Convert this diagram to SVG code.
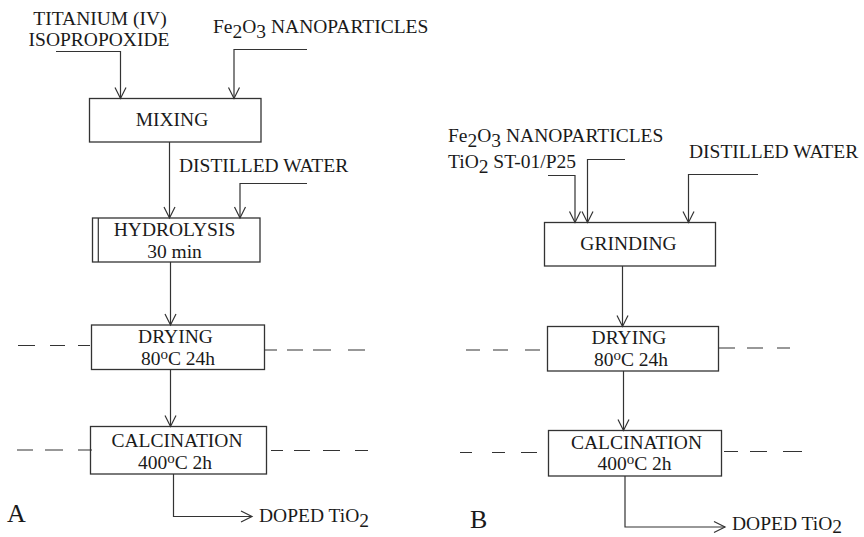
<svg xmlns="http://www.w3.org/2000/svg" width="864" height="537" viewBox="0 0 864 537">
<style>
text{font-family:"Liberation Serif","Times New Roman",serif;font-size:19.5px;fill:#1a1a1a}
.m{text-anchor:middle}
.box{fill:#fff;stroke:#333;stroke-width:1.3}
.ln{fill:none;stroke:#333;stroke-width:1.2}
.ar{fill:none;stroke:#333;stroke-width:1.2;marker-end:url(#v)}
.dash{fill:none;stroke:#333;stroke-width:1.2}
.big{font-size:26px}
.sup{font-size:15px}
</style>
<defs>
<marker id="v" markerUnits="userSpaceOnUse" markerWidth="14" markerHeight="14" viewBox="-12 -7 14 14" refX="0" refY="0" orient="auto">
<path d="M-11,-5.5 L0,0 L-11,5.5" fill="none" stroke="#333" stroke-width="1.2"/>
</marker>
</defs>
<rect width="864" height="537" fill="#fff"/>

<!-- Panel A -->
<g id="A-labels">
<text class="m" x="100" y="25">TITANIUM (IV)</text>
<text class="m" x="99" y="46">ISOPROPOXIDE</text>
<text x="213" y="33">Fe<tspan dy="5">2</tspan><tspan dy="-5">O</tspan><tspan dy="5">3</tspan><tspan dy="-5"> NANOPARTICLES</tspan></text>
<text x="179" y="172">DISTILLED WATER</text>
<text class="big" x="7" y="522">A</text>
</g>
<g id="A-mixing"><rect class="box" x="89.5" y="98.5" width="171.5" height="43.5"/><text class="m" x="172" y="126">MIXING</text></g>
<g id="A-hydrolysis"><rect class="box" x="92.5" y="218" width="167.5" height="44"/><line class="ln" x1="98.3" y1="218" x2="98.3" y2="262"/><text class="m" x="174.5" y="236">HYDROLYSIS</text><text class="m" x="174.5" y="258">30 min</text></g>
<g id="A-drying"><rect class="box" x="91.5" y="325" width="173" height="44.5"/><text class="m" x="175.5" y="343">DRYING</text><text class="m" x="178" y="365">80<tspan class="sup" dy="-6">o</tspan><tspan dy="6">C 24h</tspan></text></g>
<g id="A-calcination"><rect class="box" x="90.5" y="426.5" width="176" height="47.5"/><text class="m" x="177" y="446.5">CALCINATION</text><text class="m" x="175" y="468.5">400<tspan class="sup" dy="-6">o</tspan><tspan dy="6">C 2h</tspan></text></g>
<g id="A-output"><text x="259" y="522">DOPED TiO<tspan dy="5">2</tspan></text></g>

<!-- Panel B -->
<g id="B-labels">
<text x="448" y="142">Fe<tspan dy="5">2</tspan><tspan dy="-5">O</tspan><tspan dy="5">3</tspan><tspan dy="-5"> NANOPARTICLES</tspan></text>
<text x="448" y="168">TiO<tspan dy="5">2</tspan><tspan dy="-5"> ST-01/P25</tspan></text>
<text x="689" y="158">DISTILLED WATER</text>
<text class="big" x="470" y="528">B</text>
</g>
<g id="B-grinding"><rect class="box" x="544.5" y="222.5" width="171" height="43.5"/><text class="m" x="628.5" y="250">GRINDING</text></g>
<g id="B-drying"><rect class="box" x="547.5" y="326.5" width="171" height="44.5"/><text class="m" x="629" y="344">DRYING</text><text class="m" x="631" y="366">80<tspan class="sup" dy="-6">o</tspan><tspan dy="6">C 24h</tspan></text></g>
<g id="B-calcination"><rect class="box" x="548.5" y="430.5" width="173" height="45.5"/><text class="m" x="636.5" y="448.5">CALCINATION</text><text class="m" x="634.5" y="470">400<tspan class="sup" dy="-6">o</tspan><tspan dy="6">C 2h</tspan></text></g>
<g id="B-output"><text x="732" y="530">DOPED TiO<tspan dy="3">2</tspan></text></g>

<g id="connectors">
<!-- A -->
<polyline class="ar" points="56,51.5 120.5,51.5 120.5,98.5"/>
<polyline class="ar" points="307,49.5 234,49.5 234,98.5"/>
<line class="ar" x1="169.5" y1="142" x2="169.5" y2="218"/>
<polyline class="ar" points="307,183.5 240,183.5 240,218"/>
<line class="ar" x1="170.5" y1="262" x2="170.5" y2="325"/>
<line class="ar" x1="170.5" y1="369.5" x2="170.5" y2="426.5"/>
<polyline class="ar" points="173.5,474 173.5,516.5 252,516.5"/>
<!-- B -->
<polyline class="ar" points="548,175.5 575,175.5 575,222.5"/>
<polyline class="ar" points="625,159.5 587.5,159.5 587.5,222.5"/>
<polyline class="ar" points="758,174.5 688.5,174.5 688.5,222.5"/>
<line class="ar" x1="622.5" y1="266" x2="622.5" y2="326.5"/>
<line class="ar" x1="623.5" y1="371" x2="623.5" y2="430.5"/>
<polyline class="ar" points="625,476 625,527 725,527"/>
</g>

<g id="dashes">
<path class="dash" d="M18,345.5H35M50,345.5H65M78,345.5H90"/>
<path class="dash" d="M264,350H277M287,350H303M313,350H331M348,350H365"/>
<path class="dash" d="M17,450H33M45,450H63M78,450H92"/>
<path class="dash" d="M271,450.5H283M294,450.5H310M323,450.5H340M355,450.5H368"/>
<path class="dash" d="M466,350H480M493,350H508M525,350H540"/>
<path class="dash" d="M719,348H735M747,348H763M777,348H790"/>
<path class="dash" d="M460,452.5H472M492,452.5H505M521,452.5H537"/>
<path class="dash" d="M724,451.5H738M750,451.5H767M783,451.5H802"/>
</g>
</svg>
